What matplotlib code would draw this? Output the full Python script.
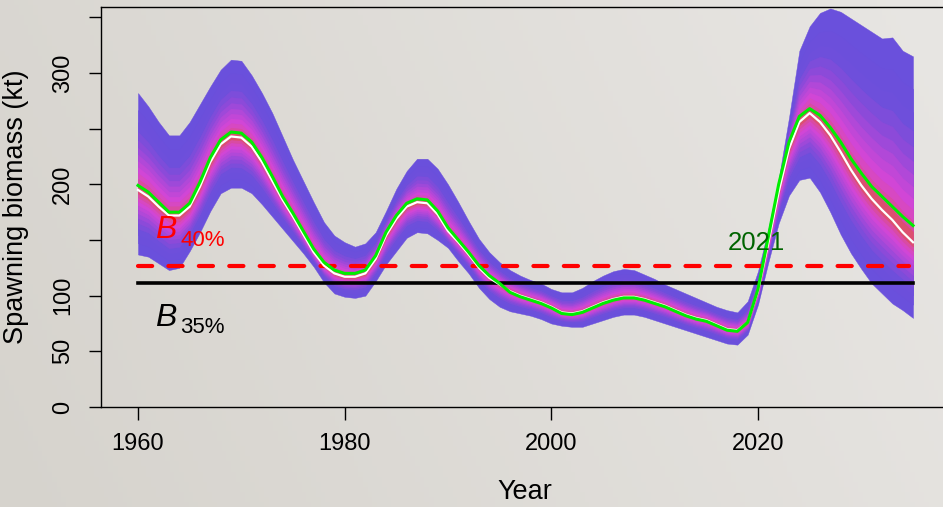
import numpy as np
import matplotlib
matplotlib.use("Agg")
import matplotlib.pyplot as plt
from matplotlib.colors import LinearSegmentedColormap
from statistics import NormalDist

plt.rcParams['font.family'] = ['Liberation Sans', 'DejaVu Sans']

# ---------------- data ----------------
years = np.arange(1960, 2036)

median = [195, 189, 180, 172, 172, 180, 198, 220, 236, 243,
          242, 234, 220, 203, 186, 171, 155, 139, 127, 120,
          117, 117, 120, 133, 154, 169, 180, 184, 183, 173,
          158, 148, 137, 125, 116, 110, 104, 100, 97, 94,
          90, 85, 84, 86, 90, 94, 97, 99, 99, 97,
          94, 91, 87, 83, 80, 78, 74, 70, 69, 76,
          104, 147, 193, 232, 256, 264, 256, 244, 229, 213,
          199, 187, 177, 168, 157, 148]

assess2021 = [199, 193, 184, 175, 175, 183, 202, 224, 240, 247,
              246, 238, 224, 207, 189, 174, 158, 142, 130, 123,
              120, 120, 123, 136, 157, 172, 183, 187, 186, 176,
              161, 150, 139, 127, 118, 111, 103, 99, 96, 93,
              89, 84, 83, 85, 89, 93, 96, 98, 98, 96,
              93, 90, 86, 82, 79, 77, 73, 69, 68, 76,
              106, 153, 200, 238, 261, 268, 262, 251, 238, 223,
              210, 198, 189, 180, 171, 163]

upper = [282, 270, 256, 244, 244, 256, 272, 288, 303, 312,
         311, 298, 282, 264, 243, 222, 203, 184, 166, 154,
         148, 144, 147, 157, 176, 196, 212, 223, 223, 214,
         200, 184, 167, 151, 139, 130, 123, 118, 114, 111,
         106, 103, 103, 107, 113, 118, 122, 124, 123, 119,
         115, 110, 106, 102, 98, 94, 90, 87, 85, 95,
         122, 160, 205, 260, 320, 342, 354, 358, 355, 349,
         343, 337, 331, 332, 320, 315]

lower = [137, 135, 129, 123, 125, 140, 157, 176, 192, 197,
         197, 192, 182, 171, 160, 149, 138, 126, 112, 102,
         99, 98, 100, 113, 128, 140, 152, 157, 156, 150,
         143, 131, 120, 107, 97, 90, 86, 84, 82, 79,
         75, 73, 72, 72, 75, 78, 81, 83, 83, 81,
         78, 75, 72, 69, 66, 63, 60, 57, 56, 65,
         92, 130, 165, 190, 204, 206, 193, 175, 155, 138,
         124, 111, 102, 93, 87, 80]

b40 = 127
b35 = 111

yticks = [0, 50, 100, 150, 200, 250, 300, 350]
ytick_labels = ['0', '50', '100', '', '200', '', '300', '']
xticks = [1960, 1980, 2000, 2020]

# ---------------- figure ----------------
W, H = 943, 507
fig = plt.figure(figsize=(W / 100, H / 100), dpi=100)

# background gradient
bg = fig.add_axes([0, 0, 1, 1], zorder=-10)
gx = np.linspace(0, 1, 200)
gy = np.linspace(0, 1, 100)
GX, GY = np.meshgrid(gx, gy)
c0 = np.array([214, 211, 205]) / 255
c1 = np.array([232, 230, 227]) / 255
t = np.clip(0.8 * GX + 0.2 * (1 - GY), 0, 1)[..., None]
img = c0 * (1 - t) + c1 * t
bg.imshow(img, aspect='auto', extent=[0, 1, 0, 1], origin='upper')
bg.set_axis_off()

left_px, right_px, top_px, bot_px = 101, 950, 7, 407
ax = fig.add_axes([left_px / W, (H - bot_px) / H, (right_px - left_px) / W, (bot_px - top_px) / H])
ax.patch.set_alpha(0)
ax.set_xlim(1956.42, 2038.58)
ax.set_ylim(0, 359.3)

# fan
med = np.array(median, float)
up = np.array(upper, float)
lo = np.array(lower, float)
N = 12
nd = NormalDist()
z_out = nd.inv_cdf(0.95)
probs = [0.05 + 0.45 * k / N for k in range(N)]
fracs = [nd.inv_cdf(1 - p) / z_out for p in probs]
cmap = LinearSegmentedColormap.from_list(
    'fan', [(0.0, '#6a50dc'), (0.18, '#6e4fdb'), (0.38, '#8f4ad9'),
            (0.58, '#b847d8'), (0.76, '#d646d6'), (0.9, '#d94aa8'),
            (1.0, '#dc5070')])
for k, f in enumerate(fracs):
    c = cmap(k / (N - 1))
    ax.fill_between(years, med - (med - lo) * f, med + (up - med) * f,
                    color=c, lw=0.3, edgecolor=c, zorder=2)

# reference lines
ax.plot([1960, 2034.6], [b40, b40], color='#ff0000', lw=3.0,
        dashes=(3.4, 3.9), dash_capstyle='round', zorder=3)
ax.plot([1960, 2035], [b35, b35], color='black', lw=2.6, zorder=3)

# trajectories
ax.plot(years, median, color='white', lw=1.6, zorder=4)
ax.plot(years, assess2021, color='#00ee00', lw=2.2, zorder=5)

# labels on the plot
ax.text(1961.6, 152, 'B', color='#ff0000', fontsize=23, style='italic', zorder=6)
ax.text(1964.1, 144.6, '40%', color='#ff0000', fontsize=16, zorder=6)
ax.text(1961.6, 72.8, 'B', color='black', fontsize=23, style='italic', zorder=6)
ax.text(1964.1, 66.5, '35%', color='black', fontsize=16, zorder=6)
ax.text(2019.8, 141, '2021', color='#006400', fontsize=18.5, ha='center', zorder=6)

# axes styling
for s in ['left', 'top', 'bottom']:
    ax.spines[s].set_linewidth(1.0)
    ax.spines[s].set_color('black')
ax.spines['right'].set_visible(False)

ax.set_yticks(yticks)
ax.set_yticklabels(ytick_labels)
ax.set_xticks(xticks)
ax.set_xticklabels([str(x) for x in xticks])
ax.tick_params(axis='y', direction='out', length=8.6, width=1.0, pad=11,
               labelsize=17, labelrotation=90)
for lab in ax.get_yticklabels():
    lab.set_va('center')
ax.tick_params(axis='x', direction='out', length=9.4, width=1.0, pad=9,
               labelsize=17)

fig.text(16 / W, 1 - 207 / H, 'Spawning biomass (kt)', rotation=90,
         ha='center', va='center', fontsize=19.5)
fig.text(525 / W, 1 - 492 / H, 'Year', ha='center', va='center', fontsize=19.5)

fig.savefig('out.png', dpi=100)
